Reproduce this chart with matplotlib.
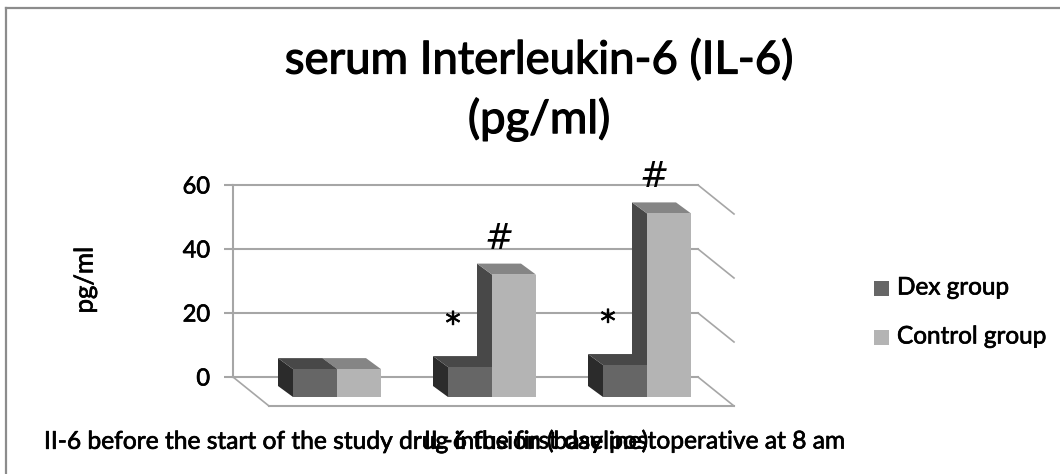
import matplotlib
matplotlib.use("Agg")
import matplotlib.pyplot as plt
import matplotlib.patheffects as pe
from matplotlib.patches import Polygon, Rectangle

plt.rcParams['font.family'] = ['Lato', 'DejaVu Sans']

categories = ["II-6 before the start of the study drug infusion (baseline)",
              "IL-6 the first day postoperative at 8 am"]
title = "serum Interleukin-6 (IL-6)\n(pg/ml)"
dex_group = [8.2, 8.8, 9.4]
control_group = [8.2, 36, 54]
yticks = [0, 20, 40, 60]
marks_dex = ["", "*", "*"]
marks_control = ["", "#", "#"]

W, H = 1060, 474
fig = plt.figure(figsize=(W / 100, H / 100), dpi=100)
fig.patch.set_facecolor("white")
semi = [pe.withStroke(linewidth=0.5, foreground="black")]

# only the top and left edges of the frame show in the picture
frame_c = "#8c8c8c"
fig.add_artist(plt.Line2D([6 / W, 1], [1 - 8 / H, 1 - 8 / H], color=frame_c, lw=1.6))
fig.add_artist(plt.Line2D([6 / W, 6 / W], [0, 1 - 8 / H], color=frame_c, lw=1.6))

# the axes box is the back wall of the 3d chart
PX_X = 465 / 3
PX_Y = 3.2
ax = fig.add_axes([233 / W, 1 - 377 / H, 465 / W, 192 / H])
ax.set_xlim(0, 3)
ax.set_ylim(0, 60)
ax.patch.set_visible(False)
for s in ["top", "right", "bottom"]:
    ax.spines[s].set_visible(False)
grid_c = "#a6a6a6"
ax.spines["left"].set_color(grid_c)
ax.spines["left"].set_linewidth(1.5)
ax.set_xticks([])
ax.set_yticks(yticks)
ax.tick_params(axis="y", length=6.5, width=1.5, color=grid_c, labelsize=17, pad=10)
for lab in ax.get_yticklabels():
    lab.set_path_effects(semi)

fig.text(85 / W, 1 - 280 / H, "pg/ml", fontsize=18.5, rotation=90, ha="center", va="center", path_effects=semi)

floor_dx = 36 / PX_X
floor_dy = -29 / PX_Y
for t in yticks:
    ax.plot([0, 3], [t, t], color=grid_c, lw=1.5, clip_on=False, zorder=1)
    ax.plot([3, 3 + floor_dx], [t, t + floor_dy], color=grid_c, lw=1.2, clip_on=False, zorder=1)
ax.plot([0, floor_dx], [0, floor_dy], color=grid_c, lw=1.2, clip_on=False, zorder=1)
ax.plot([floor_dx, 3 + floor_dx], [floor_dy, floor_dy], color=grid_c, lw=1.5, clip_on=False, zorder=1)

bar_w = 44 / PX_X
front_dx = 26.5 / PX_X
base_y = -20 / PX_Y
depth_x = 15 / PX_X
depth_y = 11 / PX_Y
y_scale = 3.4 / PX_Y


def draw_bar(x0, value, front_c, top_c, side_c, z):
    top = base_y + value * y_scale
    side = Polygon([(x0, base_y), (x0, top), (x0 - depth_x, top + depth_y), (x0 - depth_x, base_y + depth_y)],
                   fc=side_c, ec="none", clip_on=False, zorder=z)
    roof = Polygon([(x0, top), (x0 + bar_w, top), (x0 + bar_w - depth_x, top + depth_y), (x0 - depth_x, top + depth_y)],
                   fc=top_c, ec="none", clip_on=False, zorder=z)
    front = Rectangle((x0, base_y), bar_w, top - base_y, fc=front_c, ec="none", clip_on=False, zorder=z + 0.5)
    ax.add_patch(side)
    ax.add_patch(roof)
    ax.add_patch(front)
    return top


for i in range(3):
    centre = i + 0.5 + front_dx
    # control side is hidden by the dex bar, so it goes first
    top_c = draw_bar(centre, control_group[i], "#b4b4b4", "#858585", "#484848", 3)
    top_d = draw_bar(centre - bar_w, dex_group[i], "#666666", "#484848", "#2b2b2b", 4)
    ax.add_patch(Rectangle((centre, base_y), bar_w, top_c - base_y, fc="#b4b4b4", ec="none", clip_on=False, zorder=5))
    ax.text(centre - bar_w / 2 - 17 / PX_X, top_d + 42 / PX_Y, marks_dex[i], fontsize=22,
            ha="center", va="center", family="DejaVu Sans", zorder=6, path_effects=semi)
    ax.text(centre + bar_w / 2 - 15 / PX_X, top_c + 36 / PX_Y, marks_control[i], fontsize=25,
            ha="center", va="center", family="DejaVu Sans", style="italic", zorder=6)

lines = title.split("\n")
fig.text(539 / W, 1 - 60 / H, lines[0], fontsize=32.8, ha="center", va="center",
         path_effects=[pe.withStroke(linewidth=0.9, foreground="black")])
fig.text(539 / W, 1 - 119 / H, lines[1], fontsize=32.8, ha="center", va="center",
         path_effects=[pe.withStroke(linewidth=0.9, foreground="black")])

# the two long category labels run over each other in the original
fig.text(44 / W, 1 - 441 / H, categories[0], fontsize=17.7, ha="left", va="center", path_effects=semi)
fig.text(424 / W, 1 - 441 / H, categories[1], fontsize=17.7, ha="left", va="center", path_effects=semi)

# legend
legend_y = [288, 337]
legend_c = ["#666666", "#b4b4b4"]
legend_t = ["Dex group", "Control group"]
for y, c, t in zip(legend_y, legend_c, legend_t):
    fig.add_artist(Rectangle((874 / W, 1 - (y + 8) / H), 15 / W, 15 / H, transform=fig.transFigure, fc=c, ec="none"))
    fig.text(897 / W, 1 - y / H, t, fontsize=17.5, ha="left", va="center", path_effects=semi)

fig.savefig("out.png", dpi=100)
